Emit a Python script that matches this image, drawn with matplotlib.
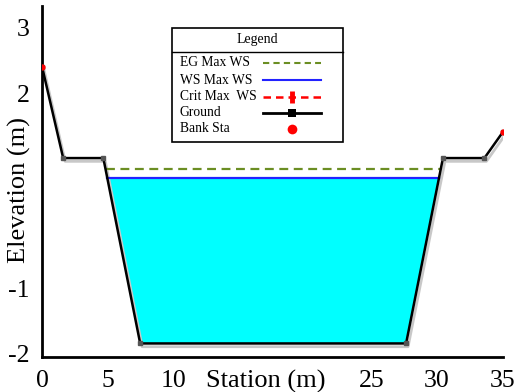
import matplotlib
matplotlib.use("Agg")
import matplotlib.pyplot as plt
from matplotlib.lines import Line2D
from matplotlib.patches import Rectangle
import numpy as np

plt.rcParams['font.family'] = ['Liberation Serif', 'DejaVu Serif']

# Data
ground_sta = [0.0, 1.6, 4.65, 7.45, 27.65, 30.45, 33.6, 35.0]
ground_elev = [2.40, 1.00, 1.00, -1.85, -1.85, 1.00, 1.00, 1.40]
bank_sta = [0.0, 35.0]
bank_elev = [2.40, 1.40]
ws_elev = 0.69
eg_elev = 0.83
x_ticks = [0, 5, 10, 15, 20, 25, 30, 35]
y_ticks = [-2, -1, 0, 1, 2, 3]
legend_labels = ['EG Max WS', 'WS Max WS', 'Crit Max  WS', 'Ground', 'Bank Sta']

W, H = 520, 392
fig = plt.figure(figsize=(W / 100, H / 100), dpi=100)
ax = fig.add_axes([0.081, 0.089, 0.886, 0.896])
ax.set_xlim(0, 35)
ax.set_ylim(-2.06, 3.34)

gs = np.array(ground_sta)
ge = np.array(ground_elev)

# water fill between WS and ground where ground below WS
xs = np.linspace(gs[2], gs[5], 2000)
gi = np.interp(xs, gs, ge)
mask = gi <= ws_elev
ax.fill_between(xs[mask], gi[mask], ws_elev, color='#00FFFF', zorder=1, lw=0)
xl, xr = xs[mask][0], xs[mask][-1]
ax.plot([xl, xr], [ws_elev, ws_elev], color='#2222FF', lw=1.6, zorder=3)

# EG line
emask = gi <= eg_elev
el, er = xs[emask][0], xs[emask][-1]
ax.plot([el, er], [eg_elev, eg_elev], color='#6B8E23', lw=1.6, ls=(0, (4, 2.5)), zorder=3)

# ground shadow + ground
ax.plot(gs + 0.15, ge - 0.05, color='#C8C8C8', lw=2, zorder=2)
ax.plot(gs, ge, color='black', lw=1.8, zorder=4)
ax.plot(gs, ge, ls='none', marker='s', ms=2.5, color='#555555', zorder=5)
ax.plot(bank_sta, bank_elev, ls='none', marker='o', ms=3.5, color='red', zorder=6)

for s in ['top', 'right']:
    ax.spines[s].set_visible(False)
ax.spines['left'].set_linewidth(2)
ax.spines['bottom'].set_linewidth(2)
ax.set_xticks(x_ticks)
ax.set_yticks(y_ticks)
ax.set_yticklabels([str(v) for v in y_ticks])
ax.tick_params(length=0, labelsize=18.5)
ax.tick_params(axis='x', pad=9)
ax.tick_params(axis='y', pad=9)

ax.set_xlabel('Station (m)', fontsize=19,
              bbox=dict(facecolor='white', edgecolor='none', pad=0.5))
ax.set_ylabel('Elevation (m)', fontsize=19,
              bbox=dict(facecolor='white', edgecolor='none', pad=0.5))
ax.xaxis.set_label_coords(0.486, -0.068)
ax.yaxis.set_label_coords(-0.05, 0.476)
ax.xaxis.label.set_va('center')
ax.yaxis.label.set_va('center')

# manual legend in figure pixel coordinates
def fx(px):
    return px / W

def fy(py):
    return 1 - py / H

box = Rectangle((fx(172), fy(142)), fx(343) - fx(172), fy(28) - fy(142),
                transform=fig.transFigure, facecolor='white', edgecolor='black',
                lw=1.2, zorder=20)
fig.add_artist(box)
fig.text(fx(257), fy(40), 'Legend', ha='center', va='center', fontsize=10, zorder=21)
fig.add_artist(Line2D([fx(172), fx(343)], [fy(52), fy(52)], color='black',
                      lw=1.0, transform=fig.transFigure, zorder=21))
rows = [63, 80, 97, 113, 129]
hx0, hx1, hm = fx(263), fx(321), fx(292)
styles = [
    dict(color='#6B8E23', lw=1.5, ls=(0, (3, 2))),
    dict(color='#2222FF', lw=1.5),
    dict(color='red', lw=1.8, ls=(0, (3, 2))),
    dict(color='black', lw=2.0),
    None,
]
markers = [None, None, dict(marker='s', ms=6, color='red', mew=0),
           dict(marker='s', ms=6, color='black', mew=0),
           dict(marker='o', ms=7, color='red', mew=0)]
for lab, r, st, mk in zip(legend_labels, rows, styles, markers):
    fig.text(fx(180), fy(r), lab, ha='left', va='center', fontsize=9.8, zorder=21)
    if st is not None:
        fig.add_artist(Line2D([hx0, hx1], [fy(r), fy(r)], transform=fig.transFigure,
                              zorder=21, **st))
    if mk is not None:
        if lab.startswith('Crit'):
            fig.add_artist(Line2D([hm], [fy(r)], transform=fig.transFigure, ls='none',
                                  marker='|', ms=8, mew=3.5, color='red', zorder=22))
        else:
            fig.add_artist(Line2D([hm], [fy(r)], transform=fig.transFigure, ls='none',
                                  zorder=22, **mk))

fig.savefig('out.png', dpi=100)
